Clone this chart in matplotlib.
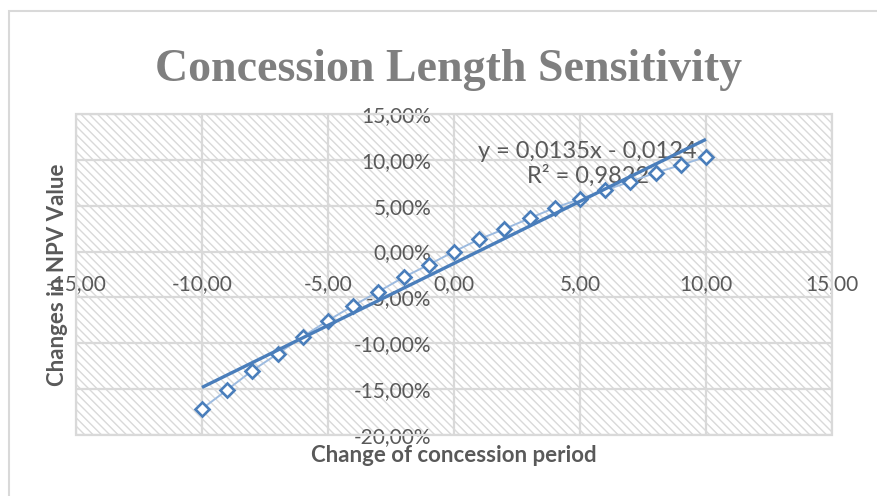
import numpy as np
import matplotlib
matplotlib.use("Agg")
import matplotlib.pyplot as plt
import matplotlib.ticker
from matplotlib.patches import Rectangle

# data
period_change = [-10, -9, -8, -7, -6, -5, -4, -3, -2, -1, 0, 1, 2, 3, 4, 5, 6, 7, 8, 9, 10]
npv_change = [-0.1715, -0.1507, -0.1297, -0.1115, -0.0927, -0.0752, -0.0589, -0.0437, -0.0280, -0.0143, 0.0,
              0.0134, 0.0246, 0.0363, 0.0478, 0.0573, 0.0671, 0.0762, 0.0860, 0.0943, 0.1034]
eq_text = "y = 0,0135x - 0,0124\nR² = 0,9822"

title = "Concession Length Sensitivity"
xlabel = "Change of concession period"
ylabel = "Changes in NPV Value"

grey_txt = "#595959"
grid_c = "#d9d9d9"
blue = "#4a7ebb"
light_blue = "#9dbbe0"

plt.rcParams['hatch.color'] = grid_c
plt.rcParams['hatch.linewidth'] = 1.0

fig = plt.figure(figsize=(8.78, 4.96), dpi=100)
W, H = 878.0, 496.0
ax = fig.add_axes([76 / W, 1 - 435 / H, (832 - 76) / W, (435 - 114) / H])

# hatched plot area and border
ax.add_patch(Rectangle((0, 0), 1, 1, transform=ax.transAxes, fill=False, hatch="\\\\\\\\",
                       edgecolor=grid_c, linewidth=0, zorder=0))
ax.add_patch(Rectangle((0, 0), 1, 1, transform=ax.transAxes, fill=False,
                       edgecolor=grid_c, linewidth=1.6, zorder=1, clip_on=False))

# series
x = np.array(period_change, dtype=float)
y = np.array(npv_change)
ax.plot(x, y, linestyle="-", color=light_blue, linewidth=1.4, zorder=3)
ax.plot(x, y, linestyle=" ", marker="D", markersize=7.6, markerfacecolor="white",
        markeredgecolor=blue, markeredgewidth=1.9, zorder=4)

# linear trend line
k, b = np.polyfit(x, y, 1)
xt = np.array([x.min(), x.max()])
ax.plot(xt, k * xt + b, color=blue, linewidth=2.4, zorder=5, solid_capstyle="butt")

ax.set_xlim([-15, 15])
ax.set_ylim([-0.20, 0.15])
ax.xaxis.set_major_locator(matplotlib.ticker.MultipleLocator(base=5))
ax.yaxis.set_major_locator(matplotlib.ticker.MultipleLocator(base=0.05))
ax.xaxis.set_major_formatter(matplotlib.ticker.FuncFormatter(
    lambda v, p: ("%.2f" % v).replace(".", ",")))
ax.yaxis.set_major_formatter(matplotlib.ticker.FuncFormatter(
    lambda v, p: ("%.2f%%" % (v * 100)).replace(".", ",").replace("-0,00", "0,00")))

# axes cross at zero
ax.spines['left'].set_position(('data', 0))
ax.spines['bottom'].set_position(('data', 0))
for s in ax.spines.values():
    s.set_visible(False)

ax.grid(True, color=grid_c, linewidth=1.6, zorder=1)
ax.set_axisbelow(True)
ax.tick_params(length=0, pad=16.5, labelsize=15, labelcolor=grey_txt)
for lab in ax.get_xticklabels() + ax.get_yticklabels():
    lab.set_family("Lato")

ax.text(5.3, 0.0955, eq_text, ha="center", va="center", fontsize=17, color=grey_txt,
        family="Lato", linespacing=1.1, zorder=2)

ax.set_xlabel(xlabel, fontsize=16, fontweight="bold", color=grey_txt, family="Lato")
ax.xaxis.set_label_coords((454 - 76) / 756, (435 - 456) / 321)
ax.xaxis.label.set_va("center")
ax.set_ylabel(ylabel, fontsize=16, fontweight="bold", color=grey_txt, family="Lato")
ax.yaxis.set_label_coords((58 - 76) / 756, (435 - 275) / 321)
ax.yaxis.label.set_va("center")

fig.text(449 / W, 1 - 81 / H, title, ha="center", va="baseline", fontsize=33,
         fontweight="bold", color="#7f7f7f", family="Liberation Serif")

# chart border
fig.patches.append(Rectangle((9 / W, -0.1), 1.2, (H - 11) / H + 0.1, transform=fig.transFigure,
                             fill=False, edgecolor=grid_c, linewidth=1.5))

fig.savefig("out.png", dpi=100)
